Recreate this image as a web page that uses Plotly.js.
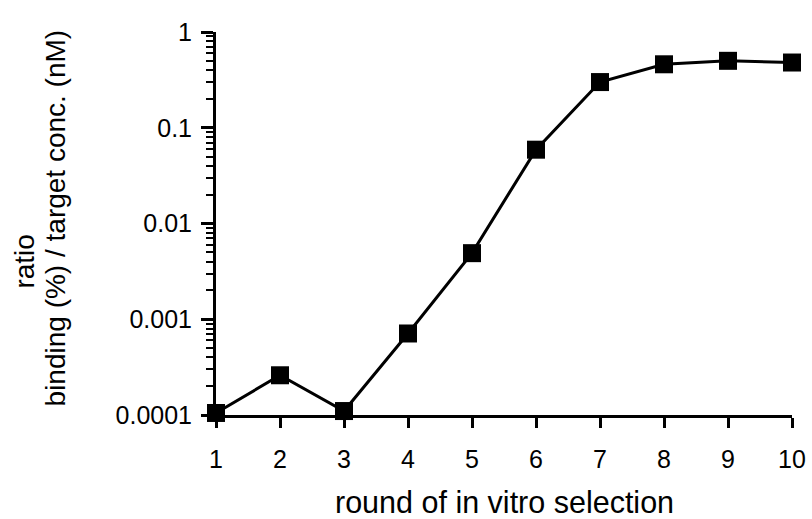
<!DOCTYPE html>
<html>
<head>
<meta charset="utf-8">
<script src="https://cdn.plot.ly/plotly-3.0.1.min.js"></script>
<style>html,body{margin:0;padding:0;background:#fff;}#chart{width:812px;height:519px;}</style>
</head>
<body>
<div id="chart"></div>
<script>
const rounds = [1, 2, 3, 4, 5, 6, 7, 8, 9, 10];
const ratioValues = [0.000105, 0.00026, 0.00011, 0.00071, 0.0049, 0.059, 0.30, 0.46, 0.50, 0.48];
const yTickVals = [0.0001, 0.001, 0.01, 0.1, 1];
const yTickText = ['0.0001', '0.001', '0.01', '0.1', '1'];
const xTitle = 'round of in vitro selection';
const yTitleLine1 = 'ratio';
const yTitleLine2 = 'binding (%) / target conc. (nM)';

const font = 'Liberation Sans, Arial, sans-serif';

const trace = {
  x: rounds,
  y: ratioValues,
  type: 'scatter',
  mode: 'lines+markers',
  line: {color: '#000', width: 3},
  marker: {symbol: 'square', size: 18, color: '#000'},
  cliponaxis: false,
  showlegend: false
};

const layout = {
  width: 812,
  height: 519,
  margin: {l: 216, r: 20, t: 32, b: 104},
  paper_bgcolor: '#fff',
  plot_bgcolor: '#fff',
  font: {family: font, color: '#000', size: 25},
  xaxis: {
    range: [1, 10],
    tickvals: rounds,
    ticks: 'outside',
    ticklen: 10,
    tickwidth: 3,
    tickcolor: '#000',
    showline: true,
    linewidth: 3,
    linecolor: '#000',
    showgrid: false,
    zeroline: false,
    tickfont: {size: 25},
    ticklabelstandoff: 10,
    layer: 'below traces'
  },
  yaxis: {
    type: 'log',
    range: [-4, 0],
    tickvals: yTickVals,
    ticktext: yTickText,
    ticks: 'outside',
    ticklen: 12,
    tickwidth: 3,
    tickcolor: '#000',
    minor: {ticks: 'outside', ticklen: 7, tickwidth: 2, tickcolor: '#000', dtick: 'D1', showgrid: false},
    showline: true,
    linewidth: 3,
    linecolor: '#000',
    showgrid: false,
    zeroline: false,
    tickfont: {size: 25},
    ticklabelstandoff: 4,
    layer: 'below traces'
  },
  annotations: [
    {text: xTitle, xref: 'paper', yref: 'paper', x: 0.5, y: -0.226, xanchor: 'center', yanchor: 'middle',
     showarrow: false, font: {size: 30.5}},
    {text: yTitleLine1, xref: 'paper', yref: 'paper', x: -0.332, y: 0.4, xanchor: 'center', yanchor: 'middle',
     textangle: -90, showarrow: false, font: {size: 28}},
    {text: yTitleLine2, xref: 'paper', yref: 'paper', x: -0.279, y: 0.514, xanchor: 'center', yanchor: 'middle',
     textangle: -90, showarrow: false, font: {size: 28}}
  ]
};

Plotly.newPlot('chart', [trace], layout, {displayModeBar: false, staticPlot: true});
</script>
</body>
</html>
